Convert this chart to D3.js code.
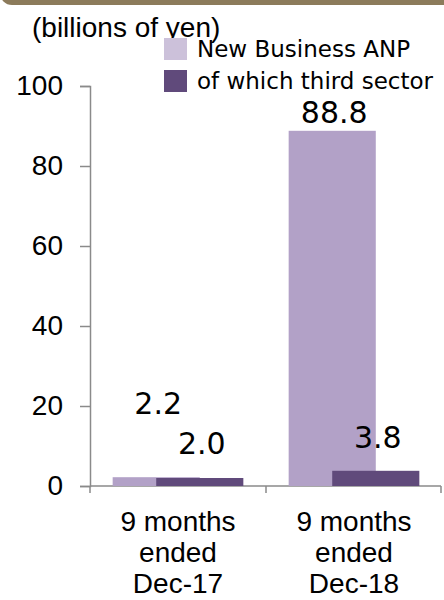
<!DOCTYPE html>
<html>
<head>
<meta charset="utf-8">
<script src="https://cdn.jsdelivr.net/npm/d3@7"></script>
<style>
  body { margin: 0; background: #fff; }
  svg { display: block; }
</style>
</head>
<body>
<div id="chart"></div>
<script>
// DATA
let categories = ["Dec-17", "Dec-18"];
let category_lines = [
  ["9 months", "ended", "Dec-17"],
  ["9 months", "ended", "Dec-18"],
];
let series_names = ["New Business ANP", "of which third sector"];
let new_business_anp = [2.2, 88.8];
let third_sector = [2.0, 3.8];
let y_ticks = [0, 20, 40, 60, 80, 100];

// colours
let light_color = "#b2a1c7";
let dark_color = "#604a7b";
let legend_colors = ["#ccc1da", "#604a7b"];
let axis_color = "#8a8a8a";

let width = 444;
let height = 600;
let margin = { top: 86, right: 2, bottom: 114, left: 90 };

let svg = d3
  .select("#chart")
  .append("svg")
  .attr("width", width)
  .attr("height", height);

// brown header strip at the very top
svg
  .append("rect")
  .attr("x", 0)
  .attr("y", -25)
  .attr("width", width + 20)
  .attr("height", 30)
  .attr("rx", 12)
  .attr("fill", "#8c7b5b");

// scales
let x = d3
  .scaleBand()
  .domain(categories)
  .range([margin.left, width - margin.right])
  .padding(0);

let y = d3
  .scaleLinear()
  .domain([0, 100])
  .range([height - margin.bottom, margin.top]);

let bar_w = x.bandwidth() * 0.495;
let group_offset = (x.bandwidth() - bar_w * 1.5) / 2;

// y axis
let y_axis = svg
  .append("g")
  .attr("transform", "translate(" + margin.left + ",0)")
  .call(
    d3.axisLeft(y).tickValues(y_ticks).tickSize(10).tickSizeOuter(10).tickPadding(17)
  );
y_axis.selectAll("path, line").attr("stroke", axis_color).attr("stroke-width", 1.5);
y_axis
  .selectAll("text")
  .attr("font-family", "Liberation Sans, Arial, sans-serif")
  .attr("font-size", 28)
  .attr("fill", "#000");

// x axis (ticks sit on category boundaries)
let x_axis = svg.append("g");
x_axis
  .append("line")
  .attr("x1", margin.left)
  .attr("x2", width - margin.right - 1)
  .attr("y1", y(0))
  .attr("y2", y(0))
  .attr("stroke", axis_color)
  .attr("stroke-width", 1.5);

let boundaries = [x(categories[0]), ...categories.map((d) => x(d) + x.bandwidth())];
x_axis
  .selectAll(".xtick")
  .data(boundaries)
  .enter()
  .append("line")
  .attr("class", "xtick")
  .attr("x1", (d, i) => (i == boundaries.length - 1 ? d - 1 : d))
  .attr("x2", (d, i) => (i == boundaries.length - 1 ? d - 1 : d))
  .attr("y1", y(0))
  .attr("y2", y(0) + 7)
  .attr("stroke", axis_color)
  .attr("stroke-width", 1.5);

// category labels
let cat_labels = svg
  .selectAll(".catlabel")
  .data(categories)
  .enter()
  .append("text")
  .attr("class", "catlabel")
  .attr("text-anchor", "middle")
  .attr("font-family", "Liberation Sans, Arial, sans-serif")
  .attr("font-size", 28)
  .attr("fill", "#000");

cat_labels
  .selectAll("tspan")
  .data((d, i) => category_lines[i].map((t) => ({ t: t, c: d })))
  .enter()
  .append("tspan")
  .attr("x", (d) => x(d.c) + x.bandwidth() / 2)
  .attr("y", (d, j) => y(0) + 45 + j * 31)
  .text((d) => d.t);

// bars: light series first, dark one overlaps by half a bar
svg
  .selectAll(".bar-light")
  .data(new_business_anp)
  .enter()
  .append("rect")
  .attr("class", "bar-light")
  .attr("x", (d, i) => x(categories[i]) + group_offset)
  .attr("y", (d) => y(d))
  .attr("width", bar_w)
  .attr("height", (d) => y(0) - y(d))
  .attr("fill", light_color);

svg
  .selectAll(".bar-dark")
  .data(third_sector)
  .enter()
  .append("rect")
  .attr("class", "bar-dark")
  .attr("x", (d, i) => x(categories[i]) + group_offset + bar_w / 2)
  .attr("y", (d) => y(d))
  .attr("width", bar_w)
  .attr("height", (d) => y(0) - y(d))
  .attr("fill", dark_color);

// value labels (lifted by hand like in the original slide)
let light_lift = [63, 8];
let dark_lift = [24, 23];

svg
  .selectAll(".val-light")
  .data(new_business_anp)
  .enter()
  .append("text")
  .attr("class", "val-light")
  .attr("x", (d, i) => x(categories[i]) + group_offset + bar_w / 2 + 2)
  .attr("y", (d, i) => y(d) - light_lift[i])
  .attr("text-anchor", "middle")
  .attr("font-family", "DejaVu Sans, Verdana, sans-serif")
  .attr("font-size", 30)
  .attr("fill", "#000")
  .text((d) => d.toFixed(1));

svg
  .selectAll(".val-dark")
  .data(third_sector)
  .enter()
  .append("text")
  .attr("class", "val-dark")
  .attr("x", (d, i) => x(categories[i]) + group_offset + bar_w + 2)
  .attr("y", (d, i) => y(d) - dark_lift[i])
  .attr("text-anchor", "middle")
  .attr("font-family", "DejaVu Sans, Verdana, sans-serif")
  .attr("font-size", 30)
  .attr("fill", "#000")
  .text((d) => d.toFixed(1));

// unit label
svg
  .append("text")
  .attr("x", 32)
  .attr("y", 37)
  .attr("font-family", "Liberation Sans, Arial, sans-serif")
  .attr("font-size", 28)
  .attr("fill", "#000")
  .text("(billions of yen)");

// legend
let legend = svg
  .selectAll(".legend")
  .data(series_names)
  .enter()
  .append("g")
  .attr("class", "legend")
  .attr("transform", (d, i) => "translate(164," + (38 + i * 32) + ")");

legend
  .append("rect")
  .attr("width", 23)
  .attr("height", 22)
  .attr("fill", (d, i) => legend_colors[i]);

legend
  .append("text")
  .attr("x", 33)
  .attr("y", 19)
  .attr("font-family", "DejaVu Sans, Verdana, sans-serif")
  .attr("font-size", 23)
  .attr("fill", "#000")
  .text((d) => d);
</script>
</body>
</html>
